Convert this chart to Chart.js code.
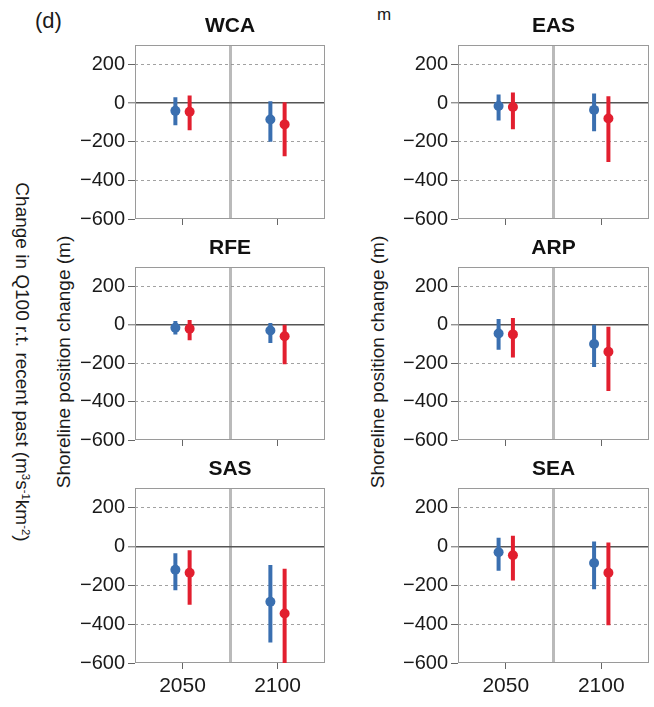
<!DOCTYPE html>
<html>
<head>
<meta charset="utf-8">
<script src="https://cdn.jsdelivr.net/npm/chart.js@4.4.1/dist/chart.umd.min.js"></script>
<style>
  html, body { margin: 0; padding: 0; background: #fff; }
  #page {
    position: relative;
    width: 654px;
    height: 707px;
    overflow: hidden;
    background: #fff;
    font-family: "Liberation Sans", Arial, Helvetica, sans-serif;
    color: #1a1a1a;
  }
  #page canvas { position: absolute; }
  .label { position: absolute; white-space: nowrap; line-height: 1; }
  .vtitle { transform: translate(-50%, -50%) rotate(-90deg); font-size: 19px; }
  #q100Title { left: 22px; top: 362px; transform: translate(-50%, -50%) rotate(90deg); }
  #shoreLeft { left: 63px; top: 362px; }
  #shoreRight { left: 377px; top: 362px; }
  #tagD { left: 35px; top: 10px; font-size: 22px; }
  #tagM { left: 377px; top: 6px; font-size: 17px; }
  sup { font-size: 0.6em; vertical-align: 0.55em; line-height: 0; }
</style>
</head>
<body>
<div id="page">
  <div class="label" id="tagD">(d)</div>
  <div class="label" id="tagM">m</div>
  <div class="label vtitle" id="q100Title">Change in Q100 r.t. recent past (m<sup>3</sup>s<sup>-1</sup>km<sup>-2</sup>)</div>
  <div class="label vtitle" id="shoreLeft">Shoreline position change (m)</div>
  <div class="label vtitle" id="shoreRight">Shoreline position change (m)</div>
</div>
<script>
// Panels, categories and axis ticks
const regions = ['WCA', 'EAS', 'RFE', 'ARP', 'SAS', 'SEA'];
const xLabels = ['2050', '2100'];
const xPositions = [1, 2];
const yTicks = [-600, -400, -200, 0, 200];

// Blue scenario: central value and range per region, [2050, 2100]
const blueMid  = [[-40, -85], [-15, -35], [-15, -30], [-45, -100], [-120, -285], [-30, -85]];
const blueLow  = [[-115, -200], [-90, -145], [-50, -95], [-130, -220], [-225, -495], [-125, -220]];
const blueHigh = [[30, 10], [45, 50], [20, 10], [30, 0], [-35, -95], [45, 25]];

// Red scenario
const redMid  = [[-45, -110], [-20, -80], [-20, -60], [-50, -140], [-135, -345], [-45, -135]];
const redLow  = [[-140, -275], [-135, -305], [-80, -205], [-170, -345], [-300, -600], [-175, -405]];
const redHigh = [[40, 5], [55, 35], [25, 0], [35, -10], [-20, -115], [55, 20]];

const BLUE = '#3a6fb0';
const RED = '#e21f2f';
const FONT = '"Liberation Sans", Arial, Helvetica, sans-serif';
const dodge = 0.075;
const separator = (xPositions[0] + xPositions[1]) / 2;

// Canvas placement for each panel (2 columns x 3 rows)
const columns = [
    { left: 55, width: 280, padRight: 10 },
    { left: 378, width: 276, padRight: 2 }
];
const rows = [
    { top: 5, height: 230, xAxisH: 16 },
    { top: 227, height: 229, xAxisH: 16 },
    { top: 448, height: 259, xAxisH: 44 }
];

// Grey box round the plotting area
const framePlugin = {
    id: 'frame',
    beforeDatasetsDraw(chart) {
        const { ctx, chartArea: a } = chart;
        ctx.save();
        ctx.strokeStyle = '#9a9a9a';
        ctx.lineWidth = 1;
        ctx.strokeRect(Math.round(a.left) + 0.5, Math.round(a.top) + 0.5,
            Math.round(a.right - a.left) - 1, Math.round(a.bottom - a.top) - 1);
        ctx.restore();
    }
};

function minusLabel(v) {
    return v < 0 ? '\u2212' + Math.abs(v) : String(v);
}

function makePanel(i) {
    const col = columns[i % 2];
    const row = rows[Math.floor(i / 2)];
    const showXLabels = i >= 4;

    const canvas = document.createElement('canvas');
    canvas.width = col.width;
    canvas.height = row.height;
    canvas.style.left = col.left + 'px';
    canvas.style.top = row.top + 'px';
    document.getElementById('page').appendChild(canvas);

    const series = [
        { mid: blueMid[i], low: blueLow[i], high: blueHigh[i], color: BLUE, shift: -dodge },
        { mid: redMid[i], low: redLow[i], high: redHigh[i], color: RED, shift: dodge }
    ];

    const datasets = [];
    series.forEach(s => {
        // whisker: one segment per period, broken by a null point
        const whisker = [];
        xPositions.forEach((x, k) => {
            whisker.push({ x: x + s.shift, y: s.low[k] });
            whisker.push({ x: x + s.shift, y: s.high[k] });
            whisker.push({ x: x + s.shift, y: null });
        });
        datasets.push({
            data: whisker,
            showLine: true,
            spanGaps: false,
            borderColor: s.color,
            borderWidth: 4,
            pointRadius: 0,
            order: 1
        });
        datasets.push({
            data: xPositions.map((x, k) => ({ x: x + s.shift, y: s.mid[k] })),
            pointRadius: 5,
            pointBackgroundColor: s.color,
            pointBorderColor: s.color,
            pointBorderWidth: 0,
            order: 0
        });
    });

    new Chart(canvas, {
        type: 'scatter',
        data: { datasets },
        options: {
            responsive: false,
            animation: false,
            events: [],
            layout: { padding: { left: 0, right: col.padRight, top: 0, bottom: 0 } },
            plugins: {
                legend: { display: false },
                tooltip: { enabled: false },
                title: {
                    display: true,
                    text: regions[i],
                    fullSize: false,
                    color: '#111',
                    font: { family: FONT, size: 21, weight: 'bold' },
                    padding: { top: 9, bottom: 6 }
                }
            },
            scales: {
                x: {
                    type: 'linear',
                    min: 0.5,
                    max: 2.5,
                    afterBuildTicks: scale => {
                        scale.ticks = [xPositions[0], separator, xPositions[1]].map(v => ({ value: v }));
                    },
                    afterFit: scale => { scale.height = row.xAxisH; },
                    grid: {
                        color: c => (c.tick && c.tick.value === separator) ? '#bababa' : 'rgba(0,0,0,0)',
                        lineWidth: c => (c.tick && c.tick.value === separator) ? 3 : 1,
                        tickColor: c => (c.tick && c.tick.value === separator) ? 'rgba(0,0,0,0)' : '#666',
                        tickWidth: 1,
                        tickLength: 6
                    },
                    border: { display: false },
                    ticks: {
                        autoSkip: false,
                        maxRotation: 0,
                        padding: 5,
                        color: '#1a1a1a',
                        font: { family: FONT, size: 21 },
                        callback: value => {
                            const k = xPositions.indexOf(value);
                            return (showXLabels && k >= 0) ? xLabels[k] : '';
                        }
                    }
                },
                y: {
                    type: 'linear',
                    min: -600,
                    max: 300,
                    afterBuildTicks: scale => {
                        scale.ticks = yTicks.map(v => ({ value: v }));
                    },
                    afterFit: scale => { scale.width = 80; },
                    grid: {
                        color: c => {
                            const v = c.tick ? c.tick.value : null;
                            if (v === 0) return '#555';
                            if (v === yTicks[0]) return 'rgba(0,0,0,0)';
                            return '#8a8a8a';
                        },
                        lineWidth: c => (c.tick && c.tick.value === 0) ? 1.6 : 0.8,
                        tickColor: '#666',
                        tickWidth: 1,
                        tickLength: 7
                    },
                    border: {
                        display: false,
                        dash: c => (c.tick && c.tick.value !== 0) ? [3, 3] : []
                    },
                    ticks: {
                        autoSkip: false,
                        padding: 3,
                        color: '#1a1a1a',
                        font: { family: FONT, size: 20 },
                        callback: value => minusLabel(value)
                    }
                }
            }
        },
        plugins: [framePlugin]
    });
}

regions.forEach((r, i) => makePanel(i));
</script>
</body>
</html>
